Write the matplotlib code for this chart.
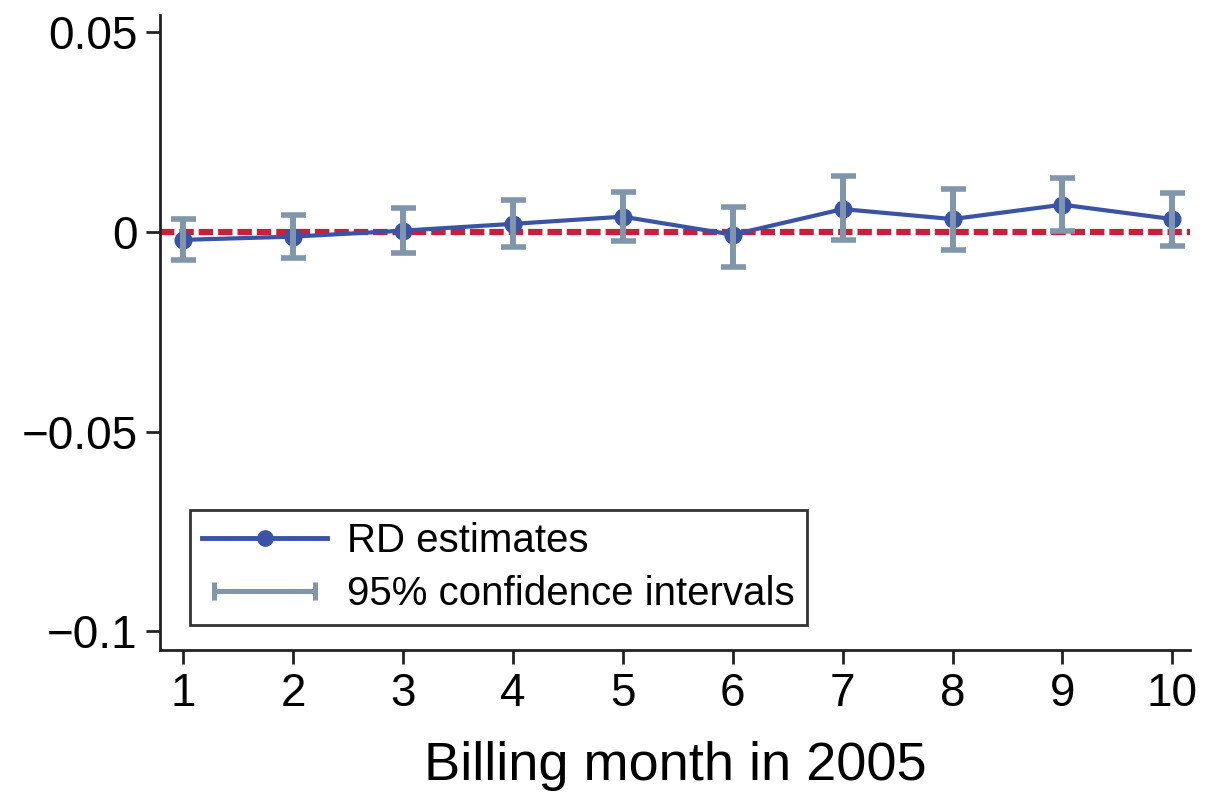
import matplotlib
matplotlib.use("Agg")
import matplotlib.pyplot as plt
from matplotlib.lines import Line2D
from matplotlib.legend_handler import HandlerLine2D

months = [1, 2, 3, 4, 5, 6, 7, 8, 9, 10]
estimates = [-0.0020, -0.0012, 0.0003, 0.0020, 0.0038, -0.0007, 0.0057, 0.0032, 0.0068, 0.0032]
ci_upper = [0.0032, 0.0043, 0.0059, 0.0080, 0.0101, 0.0063, 0.0140, 0.0107, 0.0134, 0.0098]
ci_lower = [-0.0070, -0.0066, -0.0053, -0.0037, -0.0024, -0.0087, -0.0020, -0.0045, 0.0001, -0.0035]
yticks = [0.05, 0, -0.05, -0.1]
ytick_labels = ["0.05", "0", "\u22120.05", "\u22120.1"]

plt.rcParams['font.family'] = ['Liberation Sans', 'DejaVu Sans']

fig = plt.figure(figsize=(12.14, 7.94), dpi=100)
ax = fig.add_axes([160/1214, 1 - 650/794, (1190-160)/1214, (650-15)/794])

blue = "#3a53a4"
gray = "#7f96ab"
red = "#c8203a"

ax.axhline(0, color=red, lw=4.5, ls=(0, (2.3, 0.8)), zorder=1)

lower_err = [e - l for e, l in zip(estimates, ci_lower)]
upper_err = [u - e for e, u in zip(estimates, ci_upper)]

ax.plot(months, estimates, color=blue, lw=3, marker='o', ms=12, zorder=2)
ax.errorbar(months, estimates, yerr=[lower_err, upper_err], fmt='none',
            ecolor=gray, elinewidth=4.3, capsize=9, capthick=4, zorder=3)

ax.set_xlim(0.79, 10.16)
ax.set_ylim(-0.1047, 0.0543)
ax.set_xticks(months)
ax.set_xticklabels([str(m) for m in months])
ax.set_yticks(yticks)
ax.set_yticklabels(ytick_labels)

for s in ["top", "right"]:
    ax.spines[s].set_visible(False)
for s in ["left", "bottom"]:
    ax.spines[s].set_linewidth(2)
    ax.spines[s].set_color("#222222")

ax.tick_params(axis='both', which='major', labelsize=33, length=10, width=2,
               color="#222222", pad=6)

ax.set_xlabel("Billing month in 2005", fontsize=39, labelpad=18)

h1 = Line2D([], [], color=blue, lw=3.5, marker='o', ms=11)
h2 = Line2D([], [], color=gray, lw=3.6, marker='|', ms=13, mew=3.6)
leg = ax.legend([h1, h2], ["RD estimates", "95% confidence intervals"],
                loc='lower left', bbox_to_anchor=(30/1030, 25/635),
                fontsize=29, frameon=True, fancybox=False, edgecolor='black',
                handlelength=3.1, handletextpad=0.5, borderpad=0.3,
                labelspacing=0.36, borderaxespad=0,
                handler_map={h2: HandlerLine2D(numpoints=2)})
leg.get_frame().set_linewidth(2)

fig.savefig("out.png", dpi=100)
